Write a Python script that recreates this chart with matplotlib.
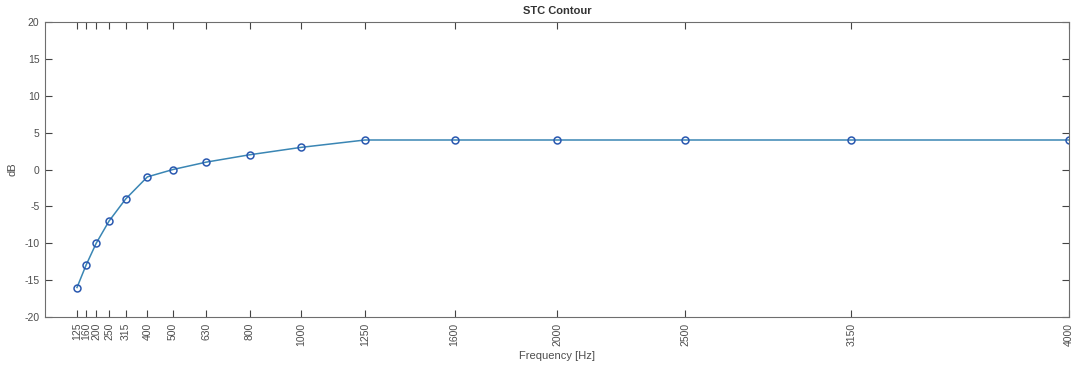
import matplotlib
matplotlib.use("Agg")
import matplotlib.pyplot as plt

# STC reference contour values (dB) at the one-third octave band centres
freqs = [125, 160, 200, 250, 315, 400, 500, 630, 800, 1000,
         1250, 1600, 2000, 2500, 3150, 4000]
contour_db = [-16, -13, -10, -7, -4, -1, 0, 1, 2, 3,
              4, 4, 4, 4, 4, 4]
freq_labels = [str(f) for f in freqs]
y_ticks = [-20, -15, -10, -5, 0, 5, 10, 15, 20]

plt.rcParams['font.family'] = ['Liberation Sans', 'DejaVu Sans']
text_col = '#4d4d4d'
axis_col = '#6e6e6e'

fig = plt.figure(figsize=(10.74, 3.68), dpi=100)
ax = fig.add_axes([45 / 1074, 1 - 317 / 368, (1069 - 45) / 1074, (317 - 22) / 368])

ax.plot(freqs, contour_db, color='#3a86b4', linewidth=1.1,
        marker='o', markersize=5, markerfacecolor='none',
        markeredgecolor='#2a58b0', markeredgewidth=1.1)

ax.set_xlim(0, 4000)
ax.set_ylim(-20, 20)
ax.set_xticks(freqs)
ax.set_xticklabels(freq_labels, rotation=90, fontsize=7.5, color=text_col)
ax.set_yticks(y_ticks)
ax.set_yticklabels([str(v) for v in y_ticks], fontsize=7.5, color=text_col)

ax.tick_params(direction='in', length=5, width=0.8, color='#444444',
               top=True, right=True, pad=4)
for sp in ax.spines.values():
    sp.set_color(axis_col)
    sp.set_linewidth(0.8)

ax.set_title('STC Contour', fontsize=8, fontweight='bold', color='#333333', pad=6)
ax.set_xlabel('Frequency [Hz]', fontsize=8, color=text_col, labelpad=4)
ax.set_ylabel('dB', fontsize=8, color=text_col, labelpad=5)

fig.savefig('out.png', dpi=100, facecolor='white')
